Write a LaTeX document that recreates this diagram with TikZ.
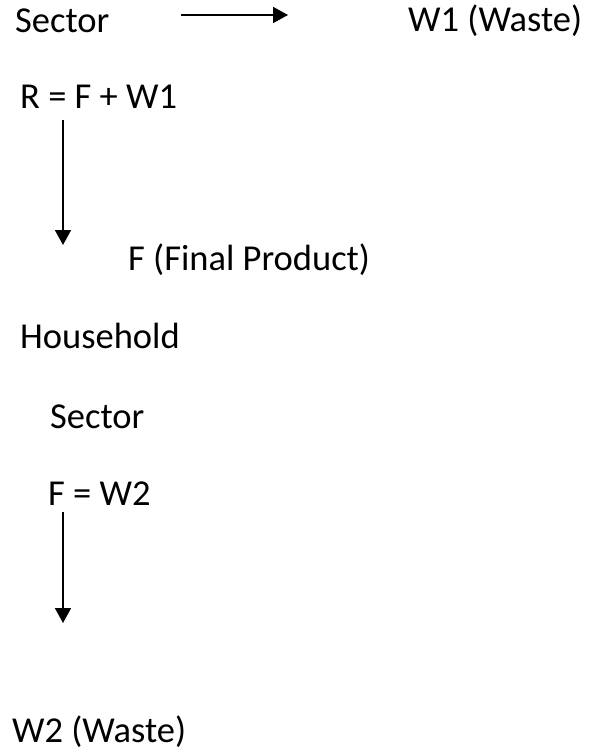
\documentclass[tikz,border=0pt]{standalone}
\usepackage{fontspec}
\setmainfont{Carlito}
\usetikzlibrary{arrows.meta}
\begin{document}
\begin{tikzpicture}[x=1pt,y=-1pt,
  lbl/.style={anchor=base west,inner sep=0pt,font=\fontsize{36.5}{44}\selectfont},
  arr/.style={line width=1.8pt,-{Triangle[length=15pt,width=16pt]}}]
\useasboundingbox (0,0) rectangle (589,752);
\node[lbl] (sec1) at (15,33) {Sector};
\node[lbl] (w1) at (408,32) {W1 (Waste)};
\node[lbl] (r) at (20,108) {R = F + W1};
\node[lbl] (f) at (128,270) {F (Final Product)};
\node[lbl] (hh) at (20,348) {Household};
\node[lbl] (sec2) at (50,428) {Sector};
\node[lbl] (fw) at (48,505) {F = W2};
\node[lbl] (w2) at (12,742) {W2 (Waste)};
\coordinate (a1s) at (181,15);
\coordinate (a1e) at (288,15);
\coordinate (a2s) at (63,120);
\coordinate (a2e) at (63,245);
\coordinate (a3s) at (63,512);
\coordinate (a3e) at (63,623);
\draw[arr] (a1s) -- (a1e);
\draw[arr] (a2s) -- (a2e);
\draw[arr] (a3s) -- (a3e);
\end{tikzpicture}
\end{document}
